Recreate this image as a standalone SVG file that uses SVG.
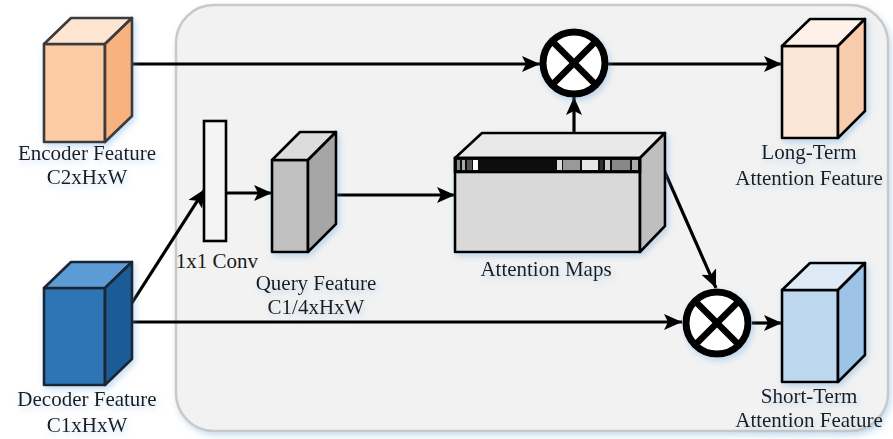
<svg xmlns="http://www.w3.org/2000/svg" width="893" height="439" viewBox="0 0 893 439">
<defs>
<style>
.lbl{font-family:"Liberation Serif","Times New Roman",serif;font-size:21px;fill:#1a1a1a;text-anchor:middle}
.edge{fill:none;stroke:#000;stroke-width:3.2}
.cube{stroke:#000;stroke-width:2.6;stroke-linejoin:round}
.op circle{fill:#fff;stroke:#000;stroke-width:7}
.op line{stroke:#000;stroke-width:6.5}
</style>
<marker id="ah" markerUnits="userSpaceOnUse" markerWidth="20" markerHeight="16" refX="18" refY="8" orient="auto">
<path d="M0,0 L18,8 L0,16 L4,8 z" fill="#000"/>
</marker>
<filter id="sh" x="-20%" y="-20%" width="140%" height="140%">
<feDropShadow dx="2" dy="3" stdDeviation="3" flood-color="#5b9bd5" flood-opacity="0.35"/>
</filter>
</defs>
<rect x="176" y="5" width="712" height="426" rx="38" fill="#f2f2f2" stroke="#c9c9c9" stroke-width="2.5" filter="url(#sh)"/>

<g id="connectors">
<line class="edge" x1="132" y1="64" x2="540" y2="64" marker-end="url(#ah)"/>
<line class="edge" x1="608" y1="64" x2="782" y2="64" marker-end="url(#ah)"/>
<line class="edge" x1="574" y1="133" x2="574" y2="97" marker-end="url(#ah)"/>
<line class="edge" x1="130" y1="306" x2="205" y2="189" marker-end="url(#ah)"/>
<line class="edge" x1="226" y1="193" x2="272" y2="193" marker-end="url(#ah)"/>
<line class="edge" x1="336" y1="195" x2="455" y2="195" marker-end="url(#ah)"/>
<line class="edge" x1="664" y1="170" x2="716" y2="288" marker-end="url(#ah)"/>
<line class="edge" x1="130" y1="322" x2="682" y2="322" marker-end="url(#ah)"/>
<line class="edge" x1="752" y1="323" x2="782" y2="323" marker-end="url(#ah)"/>
</g>

<g id="encoder" filter="url(#sh)">
<g class="cube" style="stroke:#3a3a3a">
<rect x="44" y="44" width="61" height="98" fill="#fbcba6"/>
<polygon points="44,44 71,18 132,18 105,44" fill="#fde5d2"/>
<polygon points="105,44 132,18 132,116 105,142" fill="#f8b27e"/>
</g>
<text class="lbl" x="87" y="160">Encoder Feature</text>
<text class="lbl" x="87" y="184">C2xHxW</text>
</g>

<g id="decoder" filter="url(#sh)">
<g class="cube" style="stroke:#1b2633">
<rect x="44" y="288" width="61" height="97" fill="#2e75b6"/>
<polygon points="44,288 71,262 132,262 105,288" fill="#5b9bd5"/>
<polygon points="105,288 132,262 132,359 105,385" fill="#1f5b96"/>
</g>
<text class="lbl" x="87" y="406">Decoder Feature</text>
<text class="lbl" x="87" y="432">C1xHxW</text>
</g>

<g id="conv">
<rect x="204" y="121" width="22" height="120" fill="#f4f4f4" stroke="#000" stroke-width="2.6"/>
<text class="lbl" x="217" y="268">1x1 Conv</text>
</g>

<g id="query" filter="url(#sh)">
<g class="cube">
<rect x="272" y="160" width="36" height="92" fill="#c0c0c0"/>
<polygon points="272,160 300,132 336,132 308,160" fill="#dcdcdc"/>
<polygon points="308,160 336,132 336,224 308,252" fill="#a6a6a6"/>
</g>
<text class="lbl" x="316" y="290">Query Feature</text>
<text class="lbl" x="316" y="314">C1/4xHxW</text>
</g>

<g id="attention" filter="url(#sh)">
<g class="cube">
<rect x="455" y="158" width="185" height="94" fill="#d9d9d9"/>
<polygon points="455,158 482,133 665,133 640,158" fill="#e9e9e9"/>
<polygon points="640,158 665,133 665,226 640,252" fill="#bfbfbf"/>
</g>
<g stroke="none">
<rect x="455" y="158" width="185" height="14" fill="#111"/>
<rect x="457" y="160" width="3" height="10" fill="#888"/>
<rect x="462" y="160" width="3" height="10" fill="#aaa"/>
<rect x="467" y="160" width="5" height="10" fill="#555"/>
<rect x="473" y="160" width="5" height="10" fill="#fff"/>
<rect x="557" y="160" width="5" height="10" fill="#ddd"/>
<rect x="563" y="160" width="17" height="10" fill="#999"/>
<rect x="582" y="160" width="16" height="10" fill="#e5e5e5"/>
<rect x="600" y="160" width="3" height="10" fill="#333"/>
<rect x="605" y="160" width="5" height="10" fill="#ccc"/>
<rect x="612" y="160" width="18" height="10" fill="#888"/>
<rect x="632" y="160" width="6" height="10" fill="#aaa"/>
</g>
<rect x="455" y="158" width="185" height="14" fill="none" stroke="#000" stroke-width="2.6"/>
<text class="lbl" x="546" y="276">Attention Maps</text>
</g>

<g id="mul1" class="op" filter="url(#sh)">
<circle cx="574" cy="63" r="31"/>
<line x1="552" y1="41" x2="596" y2="85"/>
<line x1="596" y1="41" x2="552" y2="85"/>
</g>

<g id="mul2" class="op" filter="url(#sh)">
<circle cx="717" cy="323" r="31"/>
<line x1="695" y1="301" x2="739" y2="345"/>
<line x1="739" y1="301" x2="695" y2="345"/>
</g>

<g id="longterm" filter="url(#sh)">
<g class="cube">
<rect x="782" y="46" width="56" height="92" fill="#fbe5d6"/>
<polygon points="782,46 810,19 865,19 838,46" fill="#fdf1e9"/>
<polygon points="838,46 865,19 865,111 838,138" fill="#f8cbad"/>
</g>
<text class="lbl" x="809" y="159">Long-Term</text>
<text class="lbl" x="809" y="185">Attention Feature</text>
</g>

<g id="shortterm" filter="url(#sh)">
<g class="cube">
<rect x="782" y="290" width="56" height="92" fill="#bdd7ee"/>
<polygon points="782,290 810,263 865,263 838,290" fill="#deebf7"/>
<polygon points="838,290 865,263 865,355 838,382" fill="#9dc3e6"/>
</g>
<text class="lbl" x="809" y="403">Short-Term</text>
<text class="lbl" x="809" y="427">Attention Feature</text>
</g>
</svg>
